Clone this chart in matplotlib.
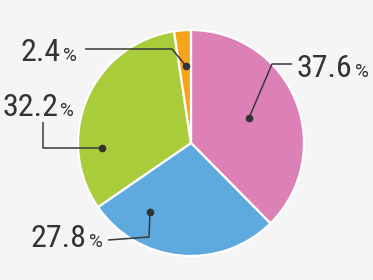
import matplotlib
matplotlib.use("Agg")
import matplotlib.pyplot as plt

# data
labels = ["A", "B", "C", "D"]
values = [37.6, 27.8, 32.2, 2.4]
value_labels = ["37.6", "27.8", "32.2", "2.4"]
colors = ["#dc80b5", "#5ea9dd", "#a9cc3b", "#f7a31c"]

W, H = 373, 280
fig = plt.figure(figsize=(W / 100, H / 100), dpi=100)
fig.patch.set_facecolor("#f5f5f5")
ax = fig.add_axes([0, 0, 1, 1])
ax.set_xlim(0, W)
ax.set_ylim(0, H)
ax.axis("off")

def py(y):
    return H - y

cx, cy, R = 191, 143, 113
ax.pie(values, colors=colors, startangle=90, counterclock=False,
       center=(cx, py(cy)), radius=R,
       wedgeprops=dict(edgecolor="white", linewidth=1.6))
ax.set_xlim(0, W)
ax.set_ylim(0, H)
ax.set_aspect("equal")

# layout: leader line paths (pixels), text positions
leaders = [
    [(249, 118), (272, 64), (292, 64)],
    [(150, 212), (149, 237), (108, 240)],
    [(102, 148), (43, 148), (43, 122)],
    [(186, 66), (172, 49), (85, 49)],
]
text_pos = [(297, 77), (31, 247), (2, 116), (21, 61)]

txtc = "#333333"
numfam = ["Roboto Condensed", "Roboto"]
for i, path in enumerate(leaders):
    xs = [p[0] for p in path]
    ys = [py(p[1]) for p in path]
    ax.plot(xs, ys, color="#3a3a3a", lw=1.1, solid_capstyle="butt", zorder=5)
    ax.plot(xs[0], ys[0], "o", color="#333333", ms=4.5, zorder=6)
    tx, ty = text_pos[i]
    t = ax.text(tx, py(ty), value_labels[i], fontsize=23, family=numfam,
                color=txtc, ha="left", va="baseline")
    fig.canvas.draw()
    bb = t.get_window_extent()
    ax.text(bb.x1 + 2, py(ty), "%", fontsize=13.5, family="Roboto",
            color=txtc, ha="left", va="baseline")

fig.savefig("out.png", dpi=100, facecolor=fig.get_facecolor())
